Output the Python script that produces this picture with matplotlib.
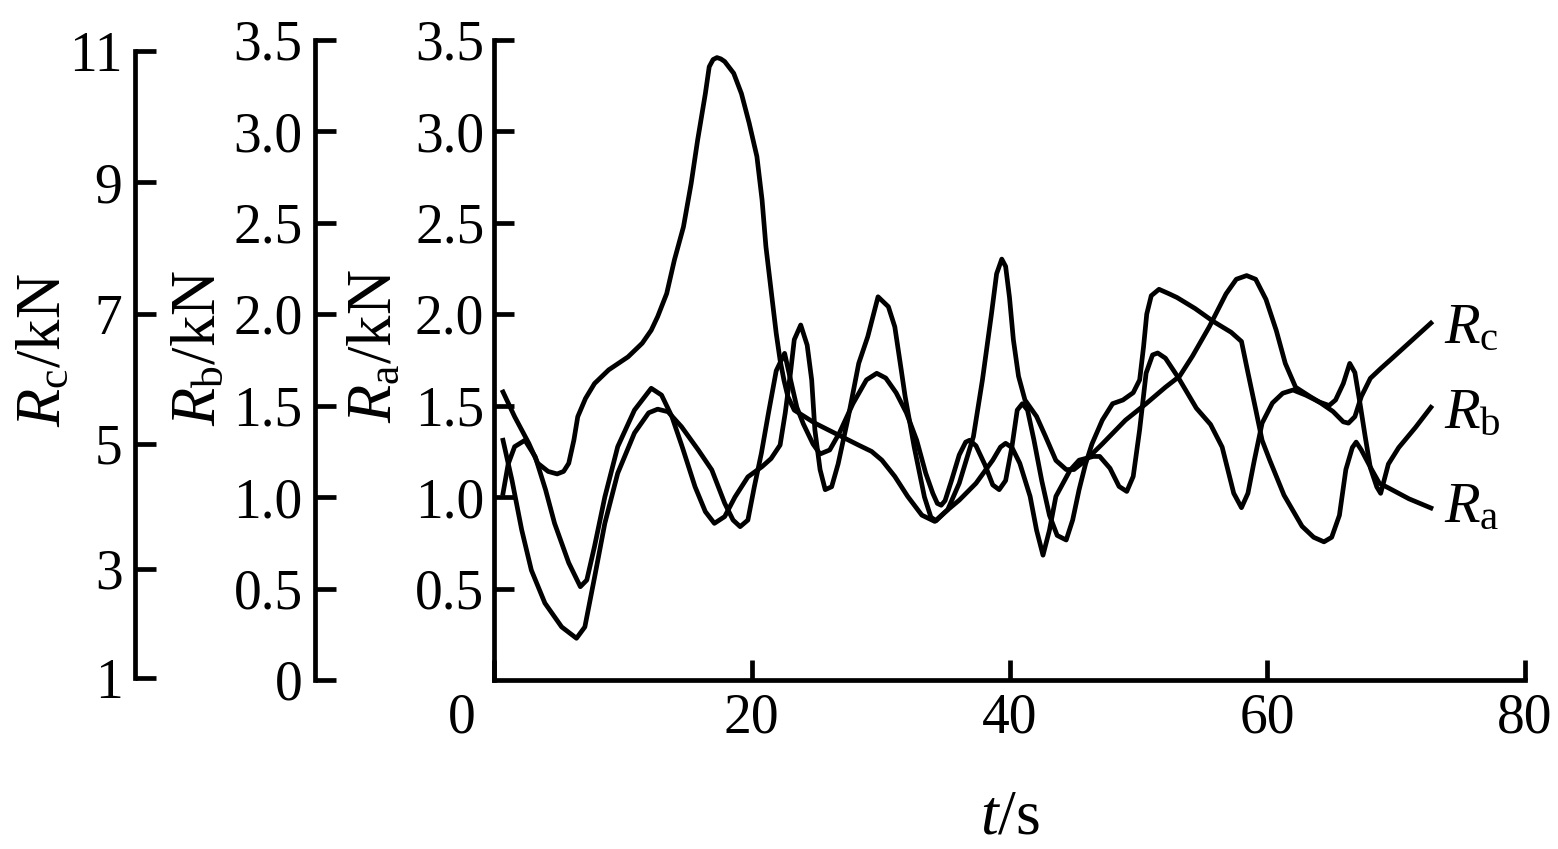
import numpy as np
import matplotlib
matplotlib.use('Agg')
from matplotlib import pyplot as plt
from matplotlib.transforms import ScaledTranslation

plt.rcParams['font.family'] = 'Liberation Serif'
plt.rcParams['mathtext.fontset'] = 'custom'
plt.rcParams['mathtext.rm'] = 'Liberation Serif'
plt.rcParams['mathtext.it'] = 'Liberation Serif:italic'

#Data
t_ra = [0.7, 1.4, 2.15, 2.9, 3.95, 5.25, 6.4, 7.05, 7.8, 8.6, 9.6, 10.9, 12.0, 12.7, 13.5, 14.55, 15.85,
        16.9, 17.9, 18.55, 19.1, 19.7, 20.2, 20.75, 21.3, 21.9, 22.55, 22.95, 23.5, 24.0, 24.75, 25.3,
        26.05, 26.8, 27.85, 28.9, 29.7, 30.4, 31.2, 32.0, 32.8, 33.5, 34.05, 34.4, 34.7, 35.0, 35.5,
        36.1, 36.6, 36.9, 37.4, 38.1, 38.7, 39.2, 39.7, 40.2, 40.6, 41.0, 41.4, 41.9, 42.5, 43.1, 43.7,
        44.4, 44.9, 45.4, 45.9, 46.4, 47.2, 48.0, 48.8, 49.6, 50.1, 50.4, 50.65, 51.0, 51.6, 52.4, 53.0,
        54.4, 55.8, 57.2, 58.0, 58.5, 59.1, 59.6, 60.2, 61.3, 62.7, 63.6, 64.4, 65.0, 65.6, 66.1, 66.6,
        66.9, 67.3, 68.1, 68.7, 69.4, 71.0, 72.7]
ra_vals = [1.31, 1.09, 0.82, 0.60, 0.42, 0.29, 0.228, 0.29, 0.56, 0.856, 1.13, 1.35, 1.46, 1.48, 1.466,
           1.384, 1.257, 1.148, 0.966, 0.874, 0.838, 0.874, 1.056, 1.24, 1.46, 1.69, 1.785, 1.66, 1.49,
           1.40, 1.29, 1.235, 1.257, 1.35, 1.51, 1.64, 1.676, 1.65, 1.57, 1.46, 1.31, 1.13, 1.02, 0.965,
           0.955, 0.98, 1.09, 1.23, 1.30, 1.31, 1.28, 1.175, 1.066, 1.04, 1.09, 1.28, 1.475, 1.51, 1.475,
           1.31, 1.09, 0.90, 0.79, 0.765, 0.874, 1.04, 1.18, 1.29, 1.42, 1.51, 1.53, 1.57, 1.64, 1.82,
           2.0, 2.10, 2.135, 2.11, 2.09, 2.03, 1.96, 1.90, 1.85, 1.68, 1.48, 1.31, 1.20, 1.01, 0.84, 0.78,
           0.755, 0.78, 0.90, 1.15, 1.27, 1.30, 1.257, 1.15, 1.075, 1.05, 0.99, 0.94]

t_rb = [0.7, 1.1, 1.6, 2.4, 3.2, 4.0, 4.7, 5.8, 6.7, 7.2, 7.8, 8.6, 9.6, 10.9, 12.2, 13.0, 13.8, 14.6,
        15.6, 16.4, 17.1, 17.9, 18.7, 19.7, 20.8, 21.5, 22.2, 22.6, 23.0, 23.3, 23.8, 24.3, 24.65, 24.9,
        25.3, 25.7, 26.2, 26.7, 27.5, 28.3, 29.0, 29.8, 30.6, 31.1, 31.6, 31.9, 32.6, 33.4, 33.9, 34.3,
        35.2, 36.1, 37.2, 37.9, 38.6, 39.0, 39.4, 39.7, 40.0, 40.3, 40.7, 41.2, 42.1, 42.8, 43.6, 44.4,
        45.0, 45.9, 47.2, 49.0, 50.6, 52.1, 53.2, 54.2, 55.5, 56.8, 57.6, 58.4, 59.1, 59.9, 60.7, 61.4,
        62.2, 63.3, 64.0, 64.8, 65.3, 65.9, 66.4, 66.8, 67.2, 67.6, 68.0, 68.5, 68.8, 69.4, 70.2, 71.5,
        72.7]
rb_vals = [1.02, 1.18, 1.275, 1.31, 1.22, 1.04, 0.856, 0.64, 0.51, 0.546, 0.73, 1.0, 1.275, 1.475,
           1.594, 1.557, 1.44, 1.275, 1.056, 0.92, 0.856, 0.893, 1.0, 1.11, 1.166, 1.21, 1.284, 1.46,
           1.676, 1.86, 1.94, 1.83, 1.64, 1.366, 1.15, 1.04, 1.056, 1.18, 1.44, 1.73, 1.876, 2.094, 2.04,
           1.93, 1.694, 1.55, 1.275, 1.0, 0.89, 0.87, 0.93, 1.075, 1.33, 1.64, 2.0, 2.22, 2.30, 2.26,
           2.09, 1.86, 1.66, 1.53, 1.44, 1.33, 1.20, 1.15, 1.15, 1.20, 1.29, 1.42, 1.51, 1.60, 1.66,
           1.77, 1.93, 2.11, 2.19, 2.21, 2.19, 2.08, 1.91, 1.73, 1.60, 1.55, 1.52, 1.50, 1.53, 1.62,
           1.73, 1.68, 1.51, 1.33, 1.16, 1.055, 1.02, 1.18, 1.27, 1.38, 1.49]

t_rc = [0.7, 1.6, 2.7, 3.4, 4.2, 4.9, 5.4, 5.8, 6.2, 6.5, 7.1, 7.8, 8.9, 10.4, 11.5, 12.2, 12.7, 13.4,
        14.0, 14.7, 15.3, 15.8, 16.4, 16.7, 17.0, 17.3, 17.6, 17.9, 18.6, 19.2, 19.8, 20.4, 20.8, 21.1,
        21.5, 21.9, 22.2, 22.5, 22.8, 23.3, 24.1, 24.9, 25.9, 27.0, 28.3, 29.3, 30.1, 31.1, 32.1, 33.2,
        34.2, 35.0, 36.1, 37.4, 38.7, 39.3, 39.7, 40.2, 40.8, 41.6, 42.1, 42.6, 43.1, 43.6, 44.7, 45.4,
        46.5, 47.0, 47.8, 48.5, 49.1, 49.6, 50.1, 50.6, 51.1, 51.5, 52.1, 53.1, 54.5, 55.6, 56.5, 57.4,
        58.0, 58.5, 59.0, 59.6, 60.4, 61.2, 62.0, 63.0, 64.0, 65.1, 65.9, 66.3, 66.8, 67.3, 68.0, 68.8,
        69.7, 72.7]
rc_vals = [5.80, 5.42, 5.01, 4.69, 4.56, 4.52, 4.56, 4.69, 5.06, 5.42, 5.70, 5.93, 6.14, 6.34, 6.55,
           6.75, 6.96, 7.31, 7.82, 8.32, 8.98, 9.64, 10.35, 10.76, 10.87, 10.90, 10.88, 10.84, 10.66,
           10.35, 9.90, 9.39, 8.73, 8.02, 7.36, 6.70, 6.29, 5.98, 5.73, 5.52, 5.42, 5.32, 5.22, 5.11,
           4.98, 4.88, 4.74, 4.48, 4.16, 3.86, 3.76, 3.91, 4.10, 4.37, 4.74, 4.95, 5.01, 4.94, 4.69,
           4.16, 3.62, 3.22, 3.62, 4.16, 4.58, 4.74, 4.80, 4.80, 4.61, 4.32, 4.24, 4.48, 5.22, 6.09,
           6.37, 6.40, 6.32, 6.02, 5.55, 5.30, 4.95, 4.21, 3.98, 4.21, 4.74, 5.32, 5.63, 5.78, 5.83,
           5.75, 5.65, 5.50, 5.34, 5.32, 5.42, 5.73, 6.01, 6.16, 6.32, 6.86]

x_ticks = [0, 20, 40, 60, 80]
ra_ticks = [0.5, 1.0, 1.5, 2.0, 2.5, 3.0, 3.5]
ra_labels = ['0.5', '1.0', '1.5', '2.0', '2.5', '3.0', '3.5']
rb_ticks = [0, 0.5, 1.0, 1.5, 2.0, 2.5, 3.0, 3.5]
rb_labels = ['0', '0.5', '1.0', '1.5', '2.0', '2.5', '3.0', '3.5']
rc_ticks = [1, 3, 5, 7, 9, 11]

#Rc axis in the original has uneven tick spacing -> piecewise scale onto the Ra frame
rc_knots = [0, 1, 3, 5, 7, 9, 11, 13]
rc_pos = [-0.287, 0.011, 0.607, 1.290, 2.0, 2.721, 3.437, 4.153]

def rc_fwd(v):
    return np.interp(v, rc_knots, rc_pos)

def rc_inv(u):
    return np.interp(u, rc_pos, rc_knots)

lw_axis = 3.4
lw_line = 3.4
fs = 40

rect = [494/1558, 169/849, 1031/1558, 640.5/849]
fig = plt.figure(figsize=(15.58, 8.49), dpi=100)
ax = fig.add_axes(rect)
ax_b = fig.add_axes(rect)
ax_c = fig.add_axes(rect)

for a in (ax_b, ax_c):
    a.patch.set_visible(False)
    a.xaxis.set_visible(False)
    for s in ('top', 'right', 'bottom'):
        a.spines[s].set_visible(False)
for s in ('top', 'right'):
    ax.spines[s].set_visible(False)

for a in (ax, ax_b, ax_c):
    a.set_xlim(0, 80)
    for s in a.spines.values():
        s.set_linewidth(lw_axis)

ax.set_ylim(0, 3.5)
ax_b.set_ylim(0, 3.5)
ax_c.set_yscale('function', functions=(rc_fwd, rc_inv))
ax_c.set_ylim(rc_inv(0), rc_inv(3.5))

ax_b.spines['left'].set_position(('axes', (315 - 494) / 1031))
ax_c.spines['left'].set_position(('axes', (135 - 494) / 1031))
ax_c.spines['left'].set_bounds(1, 11)

ax.set_xticks(x_ticks)
ax.set_xticklabels([str(x) for x in x_ticks])
ax.set_yticks(ra_ticks)
ax.set_yticklabels(ra_labels)
ax_b.set_yticks(rb_ticks)
ax_b.set_yticklabels(rb_labels)
ax_c.set_yticks(rc_ticks)
ax_c.set_yticklabels([str(v) for v in rc_ticks])
ax_c.yaxis.set_minor_locator(matplotlib.ticker.NullLocator())

ax.tick_params(axis='x', direction='in', length=14.5, width=lw_axis, labelsize=fs, pad=9)
ax.tick_params(axis='y', direction='in', length=14.5, width=lw_axis, labelsize=fs, pad=7)
for a in (ax_b, ax_c):
    a.tick_params(axis='y', direction='in', length=15, width=lw_axis, labelsize=fs, pad=9)

#move "0" left, off the Ra spine
lbl = ax.get_xticklabels()[0]
lbl.set_transform(lbl.get_transform() + ScaledTranslation(-0.32, 0, fig.dpi_scale_trans))

ax.plot(t_ra, ra_vals, color='black', lw=lw_line, solid_joinstyle='round')
ax_b.plot(t_rb, rb_vals, color='black', lw=lw_line, solid_joinstyle='round')
ax_c.plot(t_rc, rc_vals, color='black', lw=lw_line, solid_joinstyle='round')

ax.text(73.7, 1.84, r'$R_\mathrm{c}$', fontsize=42, ha='left', va='baseline')
ax.text(73.7, 1.377, r'$R_\mathrm{b}$', fontsize=42, ha='left', va='baseline')
ax.text(73.7, 0.863, r'$R_\mathrm{a}$', fontsize=42, ha='left', va='baseline')

fig.text(45/1558, 1 - 350/849, r'$R_\mathrm{c}/\mathrm{kN}$', rotation=90, ha='center', va='center', fontsize=45)
fig.text(200/1558, 1 - 348/849, r'$R_\mathrm{b}/\mathrm{kN}$', rotation=90, ha='center', va='center', fontsize=45)
fig.text(376/1558, 1 - 346/849, r'$R_\mathrm{a}/\mathrm{kN}$', rotation=90, ha='center', va='center', fontsize=45)
fig.text(1010/1558, 1 - 818/849, r'$t/\mathrm{s}$', ha='center', va='center', fontsize=46)

plt.savefig('out.png', dpi=100)
